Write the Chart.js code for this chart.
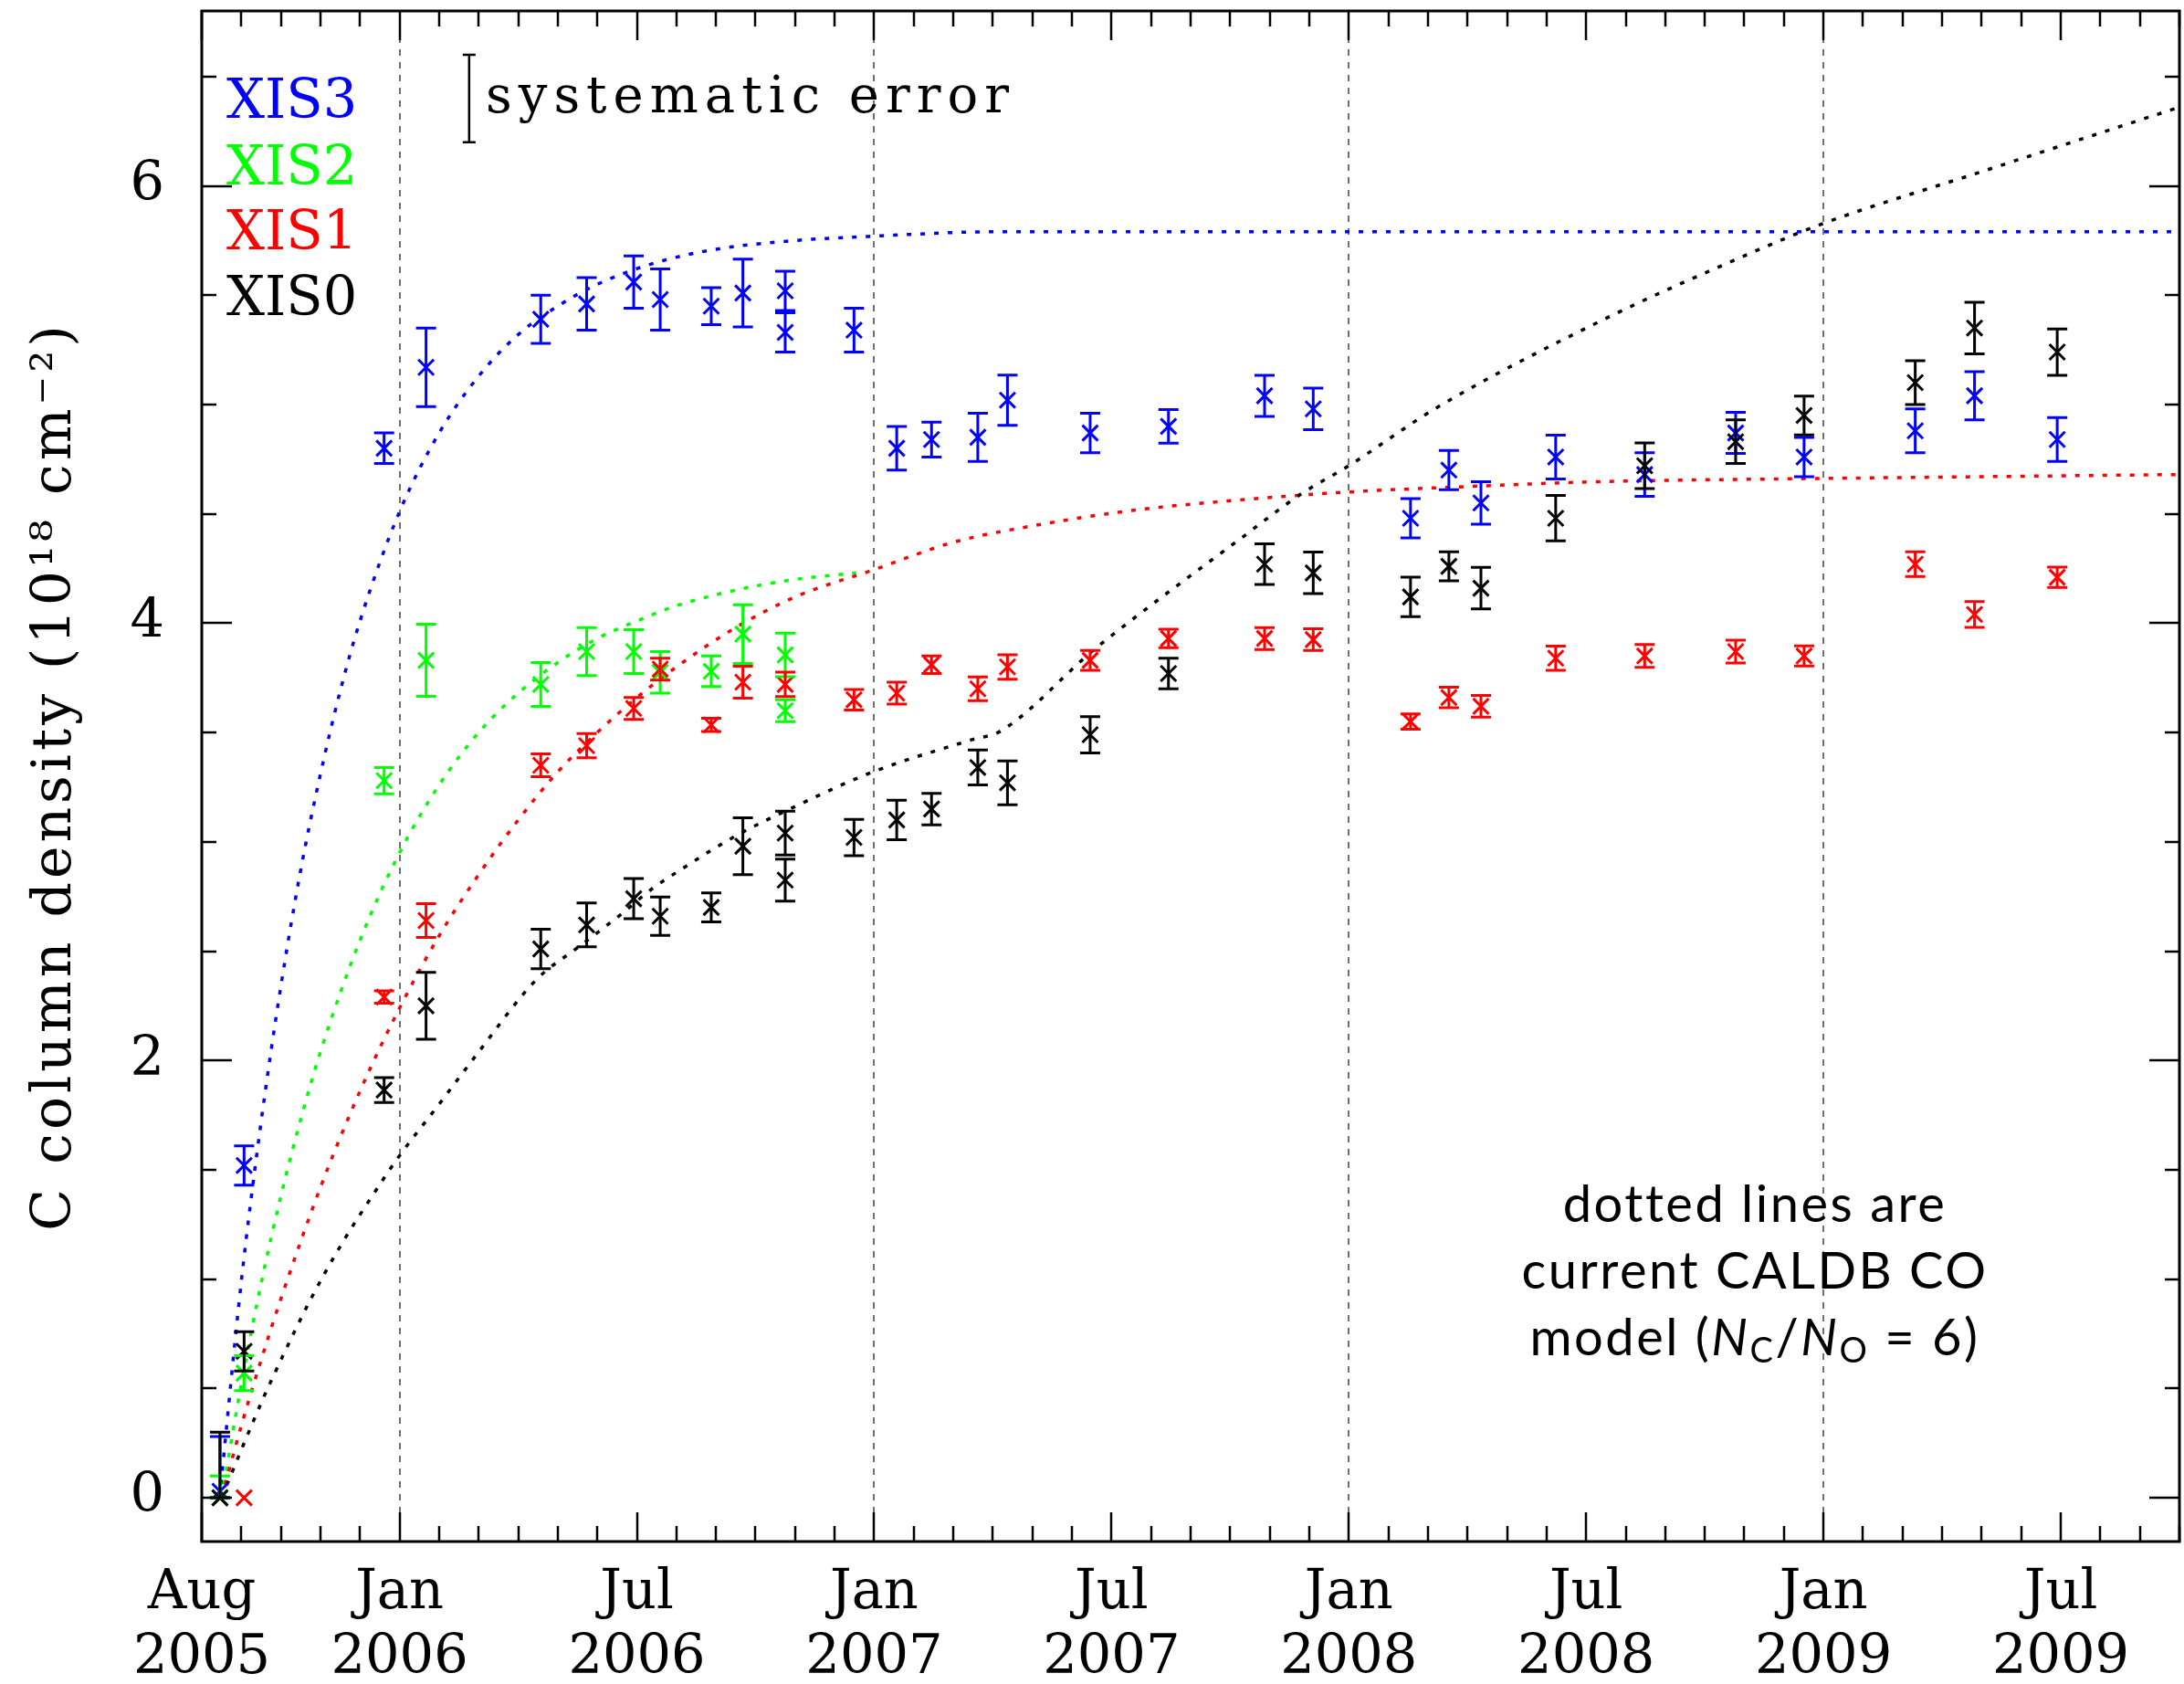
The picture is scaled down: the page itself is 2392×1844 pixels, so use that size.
<!DOCTYPE html>
<html>
<head>
<meta charset="utf-8">
<script src="https://cdn.jsdelivr.net/npm/chart.js@4.4.1/dist/chart.umd.min.js"></script>
<style>
  html, body { margin: 0; padding: 0; background: #ffffff; }
  canvas { display: block; }
</style>
</head>
<body>
<canvas id="chart" width="2392" height="1844" style="width:2392px;height:1844px"></canvas>
<script>
// Time axis: months since 1 Aug 2005 (axis runs Aug 2005 .. Oct 2009)
const tickMonths = [0, 5, 11, 17, 23, 29, 35, 41, 47];
const tickMonthNames = ['Aug', 'Jan', 'Jul', 'Jan', 'Jul', 'Jan', 'Jul', 'Jan', 'Jul'];
const tickYears = ['2005', '2006', '2006', '2007', '2007', '2008', '2008', '2009', '2009'];
const yearStartMonths = [5, 17, 29, 41];
const yTickValues = [0, 2, 4, 6];

// Measured C column density (1e18 cm^-2); errors are +/- or [minus, plus]
const xis3Time = [0.46, 1.07, 4.61, 5.67, 8.57, 9.73, 10.92, 11.59, 12.88, 13.68, 14.75, 14.75, 16.49, 17.57, 18.45, 19.62, 20.37, 22.46, 24.44, 26.87, 28.10, 30.56, 31.53, 32.34, 34.23, 36.48, 38.78, 40.51, 43.32, 44.82, 46.91];
const xis3Value = [0.03, 1.52, 4.80, 5.17, 5.39, 5.46, 5.56, 5.48, 5.45, 5.51, 5.52, 5.33, 5.34, 4.80, 4.84, 4.85, 5.02, 4.87, 4.90, 5.04, 4.98, 4.48, 4.70, 4.55, 4.76, 4.68, 4.87, 4.76, 4.88, 5.04, 4.84];
const xis3Err = [[0.03, 0.25], 0.09, 0.07, 0.18, 0.11, 0.12, 0.12, 0.14, 0.085, 0.155, 0.09, 0.09, 0.10, 0.10, 0.08, 0.11, 0.115, 0.09, 0.077, 0.094, 0.095, 0.09, 0.09, 0.097, 0.10, 0.10, 0.094, 0.09, 0.10, 0.11, 0.10];

const xis2Time = [0.46, 1.07, 4.61, 5.67, 8.57, 9.73, 10.92, 11.59, 12.88, 13.68, 14.75, 14.75];
const xis2Value = [0.0, 0.57, 3.28, 3.83, 3.72, 3.87, 3.87, 3.775, 3.78, 3.95, 3.855, 3.60];
const xis2Err = [[0, 0.10], 0.08, 0.06, 0.165, 0.10, 0.11, 0.10, 0.095, 0.07, 0.134, 0.10, 0.05];

const xis1Time = [1.07, 4.61, 5.67, 8.57, 9.73, 10.92, 11.59, 12.88, 13.68, 14.75, 16.49, 17.57, 18.45, 19.62, 20.37, 22.46, 24.44, 26.87, 28.10, 30.56, 31.53, 32.34, 34.23, 36.48, 38.78, 40.51, 43.32, 44.82, 46.91];
const xis1Value = [0.0, 2.29, 2.64, 3.35, 3.44, 3.61, 3.79, 3.535, 3.73, 3.72, 3.65, 3.68, 3.81, 3.70, 3.80, 3.83, 3.93, 3.93, 3.925, 3.55, 3.66, 3.62, 3.84, 3.85, 3.87, 3.85, 4.27, 4.04, 4.21];
const xis1Err = [0, 0.028, 0.077, 0.052, 0.055, 0.05, 0.05, 0.03, 0.073, 0.056, 0.047, 0.05, 0.04, 0.054, 0.056, 0.045, 0.042, 0.05, 0.05, 0.035, 0.047, 0.05, 0.055, 0.052, 0.052, 0.046, 0.056, 0.059, 0.046];

const xis0Time = [0.46, 1.07, 4.61, 5.67, 8.57, 9.73, 10.92, 11.59, 12.88, 13.68, 14.75, 14.75, 16.49, 17.57, 18.45, 19.62, 20.37, 22.46, 24.44, 26.87, 28.10, 30.56, 31.53, 32.34, 34.23, 36.48, 38.78, 40.51, 43.32, 44.82, 46.91];
const xis0Value = [0.0, 0.67, 1.865, 2.25, 2.51, 2.62, 2.74, 2.66, 2.70, 2.98, 3.04, 2.825, 3.02, 3.10, 3.15, 3.34, 3.27, 3.49, 3.77, 4.27, 4.23, 4.12, 4.26, 4.16, 4.48, 4.72, 4.83, 4.95, 5.10, 5.35, 5.24];
const xis0Err = [[0, 0.30], 0.09, 0.057, 0.153, 0.09, 0.10, 0.092, 0.088, 0.066, 0.13, 0.10, 0.096, 0.083, 0.09, 0.072, 0.08, 0.10, 0.083, 0.07, 0.093, 0.095, 0.09, 0.066, 0.095, 0.104, 0.104, 0.10, 0.089, 0.10, 0.118, 0.106];

// Contamination model curves (CALDB CO model)
const xis3ModelTime = [0.45, 1, 1.5, 2, 2.5, 3, 3.5, 4, 5, 6, 7, 8, 9, 10, 11.5, 13, 15, 17, 20, 25, 35, 50];
const xis3ModelValue = [0, 0.99, 1.72, 2.34, 2.87, 3.31, 3.69, 4.01, 4.51, 4.87, 5.13, 5.32, 5.45, 5.55, 5.65, 5.71, 5.75, 5.77, 5.79, 5.79, 5.79, 5.79];
const xis2ModelTime = [0.5, 1, 1.5, 2, 2.5, 3, 4, 5, 6, 7, 8, 9, 10, 11, 12, 13, 14, 15, 16.54];
const xis2ModelValue = [0, 0.52, 0.98, 1.38, 1.73, 2.04, 2.55, 2.95, 3.26, 3.50, 3.68, 3.82, 3.93, 4.01, 4.08, 4.13, 4.17, 4.20, 4.23];
const xis1ModelTime = [0.5, 1, 1.5, 2, 3, 4, 5, 6, 7, 8, 9, 10, 11, 12, 13.5, 15, 17, 19, 21, 23.5, 26, 29, 32, 35.5, 40, 45, 50];
const xis1ModelValue = [0, 0.33, 0.63, 0.91, 1.42, 1.86, 2.24, 2.57, 2.85, 3.10, 3.32, 3.50, 3.66, 3.80, 3.98, 4.12, 4.245, 4.37, 4.445, 4.515, 4.56, 4.60, 4.625, 4.648, 4.66, 4.67, 4.68];
const xis0ModelTime = [0.5, 1, 1.59, 2, 2.73, 3.5, 4.38, 5, 6, 6.92, 8.46, 9.53, 10.61, 11.38, 12, 13.43, 15.04, 16.97, 19.43, 20.2, 22.5, 23.62, 26.19, 27.81, 28.98, 31.19, 35.49, 38.72, 40.95, 45, 50];
const xis0ModelValue = [0, 0.22, 0.47, 0.63, 0.90, 1.15, 1.40, 1.565, 1.80, 2.02, 2.37, 2.52, 2.67, 2.785, 2.86, 3.02, 3.165, 3.32, 3.465, 3.507, 3.87, 4.03, 4.377, 4.593, 4.718, 4.982, 5.393, 5.658, 5.825, 6.065, 6.36];

// Size of the systematic error, shown as a reference bar in the upper left
const sysTime = [6.76];
const sysValue = [6.40];
const sysErr = [0.20];

const BLUE = '#0000ff', GREEN = '#00ff00', RED = '#ff0000', BLACK = '#000000';
const SERIF = '"DejaVu Serif", serif';
const SANS = '"Lato", "Open Sans", sans-serif';
const Y_TITLE = 'C column density (10\u00b9\u2078 cm\u207b\u00b2)';

const pts = (t, v) => t.map((x, i) => ({ x: x, y: v[i] }));

function markerSet(label, t, v, err, color) {
  return {
    label: label, data: pts(t, v), errors: err, capHalf: 11, errWidth: 3,
    showLine: false, borderColor: color, backgroundColor: color,
    pointStyle: 'crossRot', pointRadius: 12, pointBorderWidth: 3, pointHoverRadius: 12
  };
}
function modelSet(t, v, color) {
  return {
    label: 'model', data: pts(t, v), showLine: true, pointRadius: 0, pointHoverRadius: 0,
    borderColor: color, borderWidth: 3.5, borderDash: [5, 10], borderCapStyle: 'butt',
    cubicInterpolationMode: 'monotone', fill: false
  };
}

const datasets = [
  markerSet('XIS0', xis0Time, xis0Value, xis0Err, BLACK),
  markerSet('XIS1', xis1Time, xis1Value, xis1Err, RED),
  markerSet('XIS2', xis2Time, xis2Value, xis2Err, GREEN),
  markerSet('XIS3', xis3Time, xis3Value, xis3Err, BLUE),
  {
    label: 'systematic error', data: pts(sysTime, sysValue), errors: sysErr, capHalf: 7, errWidth: 2.5,
    showLine: false, borderColor: BLACK, pointRadius: 0, pointHoverRadius: 0
  },
  modelSet(xis0ModelTime, xis0ModelValue, BLACK),
  modelSet(xis1ModelTime, xis1ModelValue, RED),
  modelSet(xis2ModelTime, xis2ModelValue, GREEN),
  modelSet(xis3ModelTime, xis3ModelValue, BLUE)
];

// Dashed vertical lines at each new year
const yearLines = {
  id: 'yearLines',
  beforeDatasetsDraw(chart) {
    const { ctx, chartArea: a, scales: { x } } = chart;
    ctx.save();
    ctx.strokeStyle = '#707070';
    ctx.lineWidth = 2;
    ctx.setLineDash([7, 7]);
    ctx.beginPath();
    yearStartMonths.forEach(m => {
      const px = Math.round(x.getPixelForValue(m));
      ctx.moveTo(px, a.top);
      ctx.lineTo(px, a.bottom);
    });
    ctx.stroke();
    ctx.restore();
  }
};

// Vertical error bars with caps
const errorBars = {
  id: 'errorBars',
  afterDatasetsDraw(chart) {
    const { ctx, chartArea: a, scales: { x, y } } = chart;
    ctx.save();
    ctx.beginPath();
    ctx.rect(a.left, a.top, a.right - a.left, a.bottom - a.top);
    ctx.clip();
    for (let i = chart.data.datasets.length - 1; i >= 0; i--) {
      const ds = chart.data.datasets[i];
      if (!ds.errors) continue;
      ctx.strokeStyle = ds.borderColor;
      ctx.lineWidth = ds.errWidth;
      ctx.setLineDash([]);
      ctx.beginPath();
      ds.data.forEach((p, j) => {
        const e = ds.errors[j];
        const lo = Array.isArray(e) ? e[0] : e;
        const hi = Array.isArray(e) ? e[1] : e;
        if (lo === 0 && hi === 0) return;
        const px = x.getPixelForValue(p.x);
        const yt = y.getPixelForValue(p.y + hi);
        const yb = y.getPixelForValue(p.y - lo);
        const h = ds.capHalf;
        ctx.moveTo(px, yt); ctx.lineTo(px, yb);
        ctx.moveTo(px - h, yt); ctx.lineTo(px + h, yt);
        ctx.moveTo(px - h, yb); ctx.lineTo(px + h, yb);
      });
      ctx.stroke();
    }
    ctx.restore();
  }
};

// Box frame with inward ticks on all four sides
const frame = {
  id: 'frame',
  afterDraw(chart) {
    const { ctx, chartArea: a, scales: { x, y } } = chart;
    ctx.save();
    ctx.strokeStyle = '#000';
    ctx.lineWidth = 3;
    ctx.strokeRect(a.left, a.top, a.right - a.left, a.bottom - a.top);
    ctx.lineWidth = 2.5;
    ctx.beginPath();
    for (let m = Math.ceil(x.min); m <= x.max; m++) {
      const px = Math.round(x.getPixelForValue(m));
      const len = tickMonths.includes(m) ? 32 : 17;
      ctx.moveTo(px, a.bottom); ctx.lineTo(px, a.bottom - len);
      ctx.moveTo(px, a.top); ctx.lineTo(px, a.top + len);
    }
    for (let k = Math.ceil(y.min * 2); k <= Math.floor(y.max * 2); k++) {
      const v = k / 2;
      const py = Math.round(y.getPixelForValue(v));
      const len = yTickValues.includes(v) ? 33 : 16;
      ctx.moveTo(a.left, py); ctx.lineTo(a.left + len, py);
      ctx.moveTo(a.right, py); ctx.lineTo(a.right - len, py);
    }
    ctx.stroke();
    ctx.restore();
  }
};

// Axis title, detector labels, systematic-error caption and model note
const captions = {
  id: 'captions',
  afterDraw(chart) {
    const { ctx, chartArea: a } = chart;
    ctx.save();
    ctx.fillStyle = '#000';
    ctx.textBaseline = 'alphabetic';

    // rotated y-axis title
    ctx.save();
    ctx.translate(77, (a.top + a.bottom) / 2);
    ctx.rotate(-Math.PI / 2);
    ctx.textAlign = 'center';
    ctx.font = '60px ' + SERIF;
    ctx.letterSpacing = '4px';
    ctx.fillText(Y_TITLE, 0, 0);
    ctx.restore();

    ctx.textAlign = 'left';
    ctx.font = '59px ' + SERIF;
    [['XIS3', BLUE, 129], ['XIS2', GREEN, 202], ['XIS1', RED, 273], ['XIS0', BLACK, 345]].forEach(([t, c, b]) => {
      ctx.fillStyle = c;
      ctx.fillText(t, 248, b);
    });
    ctx.fillStyle = '#000';
    ctx.font = '56px ' + SERIF;
    ctx.letterSpacing = '7px';
    ctx.fillText('systematic error', 532, 123);

    // note in the lower right
    const cx = 1922;
    const normal = '56px ' + SANS;
    ctx.letterSpacing = '2.5px';
    ctx.font = normal;
    ctx.textAlign = 'center';
    ctx.fillText('dotted lines are', cx, 1338);
    ctx.fillText('current CALDB CO', cx, 1411);
    const parts = [
      { t: 'model (', f: normal, dy: 0 },
      { t: 'N', f: 'italic 56px ' + SANS, dy: 0 },
      { t: 'C', f: '38px ' + SANS, dy: 8 },
      { t: '/', f: normal, dy: 0 },
      { t: 'N', f: 'italic 56px ' + SANS, dy: 0 },
      { t: 'O', f: '38px ' + SANS, dy: 8 },
      { t: ' = 6)', f: normal, dy: 0 }
    ];
    let total = 0;
    parts.forEach(p => { ctx.font = p.f; p.w = ctx.measureText(p.t).width; total += p.w; });
    let px = cx - total / 2;
    ctx.textAlign = 'left';
    parts.forEach(p => { ctx.font = p.f; ctx.fillText(p.t, px, 1484 + p.dy); px += p.w; });
    ctx.restore();
  }
};

new Chart(document.getElementById('chart').getContext('2d'), {
  type: 'scatter',
  data: { datasets: datasets },
  options: {
    responsive: false,
    animation: false,
    devicePixelRatio: 1,
    layout: { autoPadding: false, padding: { top: 12, right: 5, bottom: 0, left: 0 } },
    plugins: { legend: { display: false }, tooltip: { enabled: false } },
    scales: {
      x: {
        type: 'linear', min: 0, max: 50,
        afterBuildTicks: s => {
          const t = [];
          for (let m = 0; m <= 50; m++) t.push({ value: m });
          s.ticks = t;
        },
        afterFit: s => { s.height = 156; s.paddingLeft = 0; s.paddingRight = 0; },
        grid: { display: false, drawTicks: false },
        border: { display: false },
        ticks: {
          autoSkip: false, maxRotation: 0, minRotation: 0, padding: 22, color: '#000',
          font: { family: SERIF, size: 59, lineHeight: 1.2 },
          callback: v => {
            const i = tickMonths.indexOf(v);
            return i < 0 ? '' : [tickMonthNames[i], tickYears[i]];
          }
        }
      },
      y: {
        type: 'linear', min: -0.2, max: 6.8,
        afterBuildTicks: s => { s.ticks = yTickValues.map(v => ({ value: v })); },
        afterFit: s => { s.width = 221; s.paddingTop = 0; s.paddingBottom = 0; },
        grid: { display: false, drawTicks: false },
        border: { display: false },
        ticks: { padding: 41, color: '#000', font: { family: SERIF, size: 59 } },
        title: { display: false }
      }
    }
  },
  plugins: [yearLines, errorBars, frame, captions]
});
</script>
</body>
</html>
